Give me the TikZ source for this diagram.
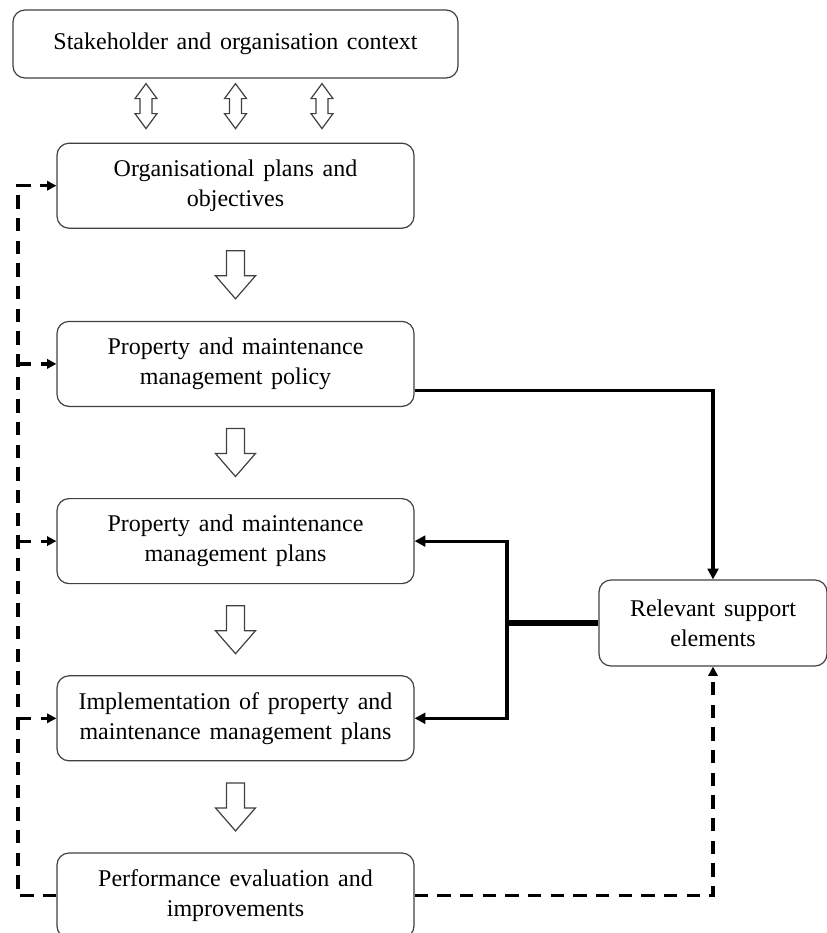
\documentclass[tikz,border=0pt]{standalone}
\usepackage{fontspec}
\setmainfont{Liberation Serif}
\usetikzlibrary{arrows.meta,positioning,calc}
\newcommand{\boxfont}{\fontsize{18}{22.5}\selectfont\spaceskip=6.5pt plus 1pt\relax}
\tikzset{
  contextbox/.style={rectangle, draw=black!75, line width=0.9pt, rounded corners=9pt,
    minimum width=333.75pt, minimum height=51pt, align=center, font=\boxfont,
    inner sep=0pt},
  stagebox/.style={rectangle, draw=black!75, line width=0.9pt, rounded corners=9pt,
    minimum width=267.75pt, minimum height=63.75pt, align=center, font=\boxfont,
    inner sep=0pt},
  supportbox/.style={rectangle, draw=black!75, line width=0.9pt, rounded corners=9pt,
    minimum width=171pt, minimum height=64.5pt, align=center, font=\boxfont,
    inner sep=0pt},
  linkarrow/.style={-{Triangle[length=8pt,width=8pt]}, line width=2.4pt},
  linkboth/.style={{Triangle[length=8pt,width=8pt]}-{Triangle[length=8pt,width=8pt]}, line width=2.4pt},
  supportline/.style={line width=4.2pt},
  feedbackarrow/.style={-{Triangle[length=7pt,width=7pt]}, line width=2.4pt,
    dash pattern=on 10pt off 7pt},
  hollowarrow/.style={draw=black!75, fill=white, line width=0.9pt, line join=miter},
}

\begin{document}
\begin{tikzpicture}[x=0.75pt, y=-0.75pt]
  \useasboundingbox (0,0) rectangle (827,933);

  % Main column
  \node[contextbox] (context) at (235.5,44) {Stakeholder and organisation context};
  \node[stagebox, below=48pt of context] (objectives) {Organisational plans and\\objectives};
  \node[stagebox, below=69pt of objectives] (policy) {Property and maintenance\\management policy};
  \node[stagebox, below=68.25pt of policy] (plans) {Property and maintenance\\management plans};
  \node[stagebox, below=68.25pt of plans] (impl) {Implementation of property and\\maintenance management plans};
  \node[stagebox, below=68.25pt of impl] (perf) {Performance evaluation and\\improvements};

  % Right side
  \node[supportbox] (support) at (713,623) {Relevant support\\elements};

  \coordinate (loop) at (18,0);
  \coordinate (branch) at (507,0);

  % Two-way block arrows under the context
  \foreach \dx in {-89.5,0,86.5}
    \draw[hollowarrow] ($(context.south)!0.5!(objectives.north)$) ++(\dx,-27)
      -- ++(11,15) -- ++(-5,0) -- ++(0,15) -- ++(5,0) -- ++(-11,15)
      -- ++(-11,-15) -- ++(5,0) -- ++(0,-15) -- ++(-5,0) -- cycle;

  % Block arrows down the column
  \foreach \a/\b in {objectives/policy, policy/plans, plans/impl, impl/perf}
    \draw[hollowarrow] ($(\a.south)!0.5!(\b.north)$) ++(-9,-24)
      -- ++(18,0) -- ++(0,25) -- ++(11,0) -- ++(-20,23)
      -- ++(-20,-23) -- ++(11,0) -- cycle;

  % Feedback loop
  \draw[feedbackarrow] (perf.west) -- (perf.west -| loop) |- (objectives.west);
  \foreach \n in {policy,plans,impl}
    \draw[feedbackarrow] (\n.west -| loop) -- (\n.west);
  \draw[feedbackarrow] (perf.east) -| (support.south);

  % Support links
  \draw[linkarrow] ([yshift=-20pt]policy.east) -| (support.north);
  \draw[supportline] (support.west) -- (support.west -| branch);
  \draw[linkboth] (plans.east) -| (branch |- support.west) |- (impl.east);

\end{tikzpicture}
\end{document}
